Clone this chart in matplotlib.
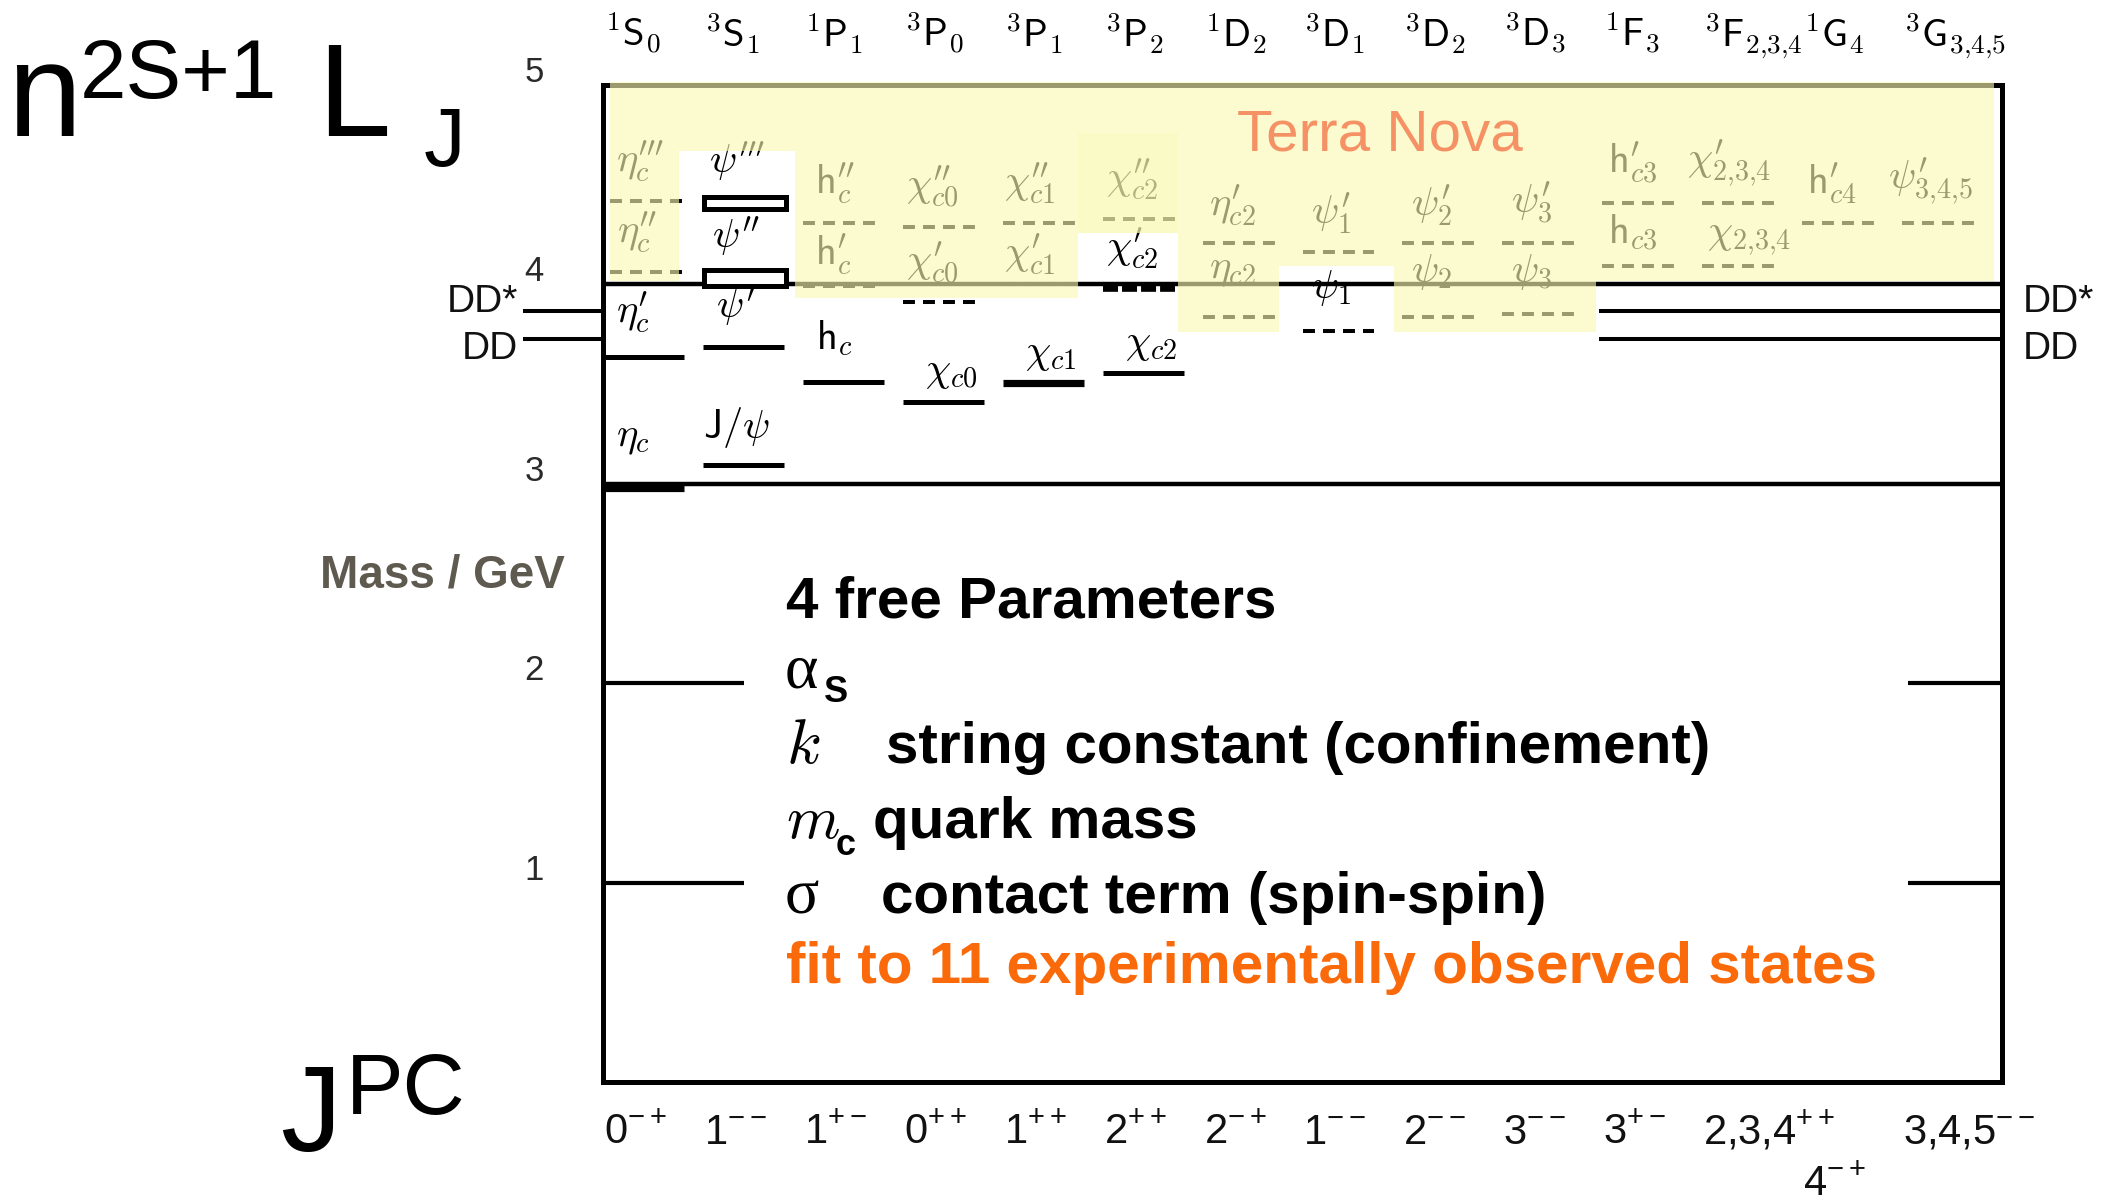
import matplotlib
matplotlib.use("Agg")
import matplotlib.pyplot as plt
from matplotlib import font_manager
from matplotlib.patches import Rectangle

W, H, DPI = 2116, 1204, 100

# spectroscopic notation of each column and its J^PC
headers = [
    r"${}^{1}\mathsf{S}_{0}$", r"${}^{3}\mathsf{S}_{1}$",
    r"${}^{1}\mathsf{P}_{1}$", r"${}^{3}\mathsf{P}_{0}$",
    r"${}^{3}\mathsf{P}_{1}$", r"${}^{3}\mathsf{P}_{2}$",
    r"${}^{1}\mathsf{D}_{2}$", r"${}^{3}\mathsf{D}_{1}$",
    r"${}^{3}\mathsf{D}_{2}$", r"${}^{3}\mathsf{D}_{3}$",
    r"${}^{1}\mathsf{F}_{3}$", r"${}^{3}\mathsf{F}_{2{,}3{,}4}$",
    r"${}^{1}\mathsf{G}_{4}$", r"${}^{3}\mathsf{G}_{3{,}4{,}5}$",
]
jpc = ["0^{-+}", "1^{--}", "1^{+-}", "0^{++}", "1^{++}", "2^{++}", "2^{-+}",
       "1^{--}", "2^{--}", "3^{--}", "3^{+-}", "2{,}3{,}4^{++}", "4^{-+}", "3{,}4{,}5^{--}"]
jpc_row = [0, 0, 0, 0, 0, 0, 0, 0, 0, 0, 0, 0, 1, 0]

# charmonium levels (GeV): column, mass, drawing kind
state_col = [0, 0, 0, 0,
             1, 1,
             2, 2, 2,
             3, 3, 3,
             4, 4, 4,
             5, 5, 5,
             6, 6,
             7, 7,
             8, 8,
             9, 9,
             10, 10,
             11, 11,
             12,
             13]
state_mass = [2.98, 3.636, 4.06, 4.42,
              3.094, 3.686,
              3.51, 3.99, 4.31,
              3.41, 3.91, 4.29,
              3.505, 4.00, 4.31,
              3.556, 3.98, 4.33,
              3.835, 4.21,
              3.766, 4.16,
              3.835, 4.21,
              3.85, 4.21,
              4.09, 4.41,
              4.09, 4.41,
              4.31,
              4.31]
state_kind = ["thick", "solid", "dash", "dash",
              "solid", "solid",
              "solid", "dash", "dash",
              "solid", "dash", "dash",
              "thick", "dash", "dash",
              "solid", "thickdash", "dash",
              "dash", "dash",
              "dash", "dash",
              "dash", "dash",
              "dash", "dash",
              "dash", "dash",
              "dash", "dash",
              "dash",
              "dash"]
state_label = [r"$\eta_{c}$", r"$\eta^{\prime}_{c}$", r"$\eta^{\prime\prime}_{c}$", r"$\eta^{\prime\prime\prime}_{c}$",
               r"$\mathsf{J}/\psi$", r"$\psi^{\prime}$",
               r"$\mathsf{h}_{c}$", r"$\mathsf{h}^{\prime}_{c}$", r"$\mathsf{h}^{\prime\prime}_{c}$",
               r"$\chi_{c0}$", r"$\chi^{\prime}_{c0}$", r"$\chi^{\prime\prime}_{c0}$",
               r"$\chi_{c1}$", r"$\chi^{\prime}_{c1}$", r"$\chi^{\prime\prime}_{c1}$",
               r"$\chi_{c2}$", r"$\chi^{\prime}_{c2}$", r"$\chi^{\prime\prime}_{c2}$",
               r"$\eta_{c2}$", r"$\eta^{\prime}_{c2}$",
               r"$\psi_{1}$", r"$\psi^{\prime}_{1}$",
               r"$\psi_{2}$", r"$\psi^{\prime}_{2}$",
               r"$\psi_{3}$", r"$\psi^{\prime}_{3}$",
               r"$\mathsf{h}_{c3}$", r"$\mathsf{h}^{\prime}_{c3}$",
               r"$\chi_{2{,}3{,}4}$", r"$\chi^{\prime}_{2{,}3{,}4}$",
               r"$\mathsf{h}^{\prime}_{c4}$",
               r"$\psi^{\prime}_{3{,}4{,}5}$"]
label_mass = [3.23, 3.86, 4.26, 4.62,
              3.28, 3.89,
              3.73, 4.15, 4.51,
              3.56, 4.11, 4.49,
              3.65, 4.15, 4.51,
              3.70, 4.18, 4.53,
              4.07, 4.40,
              3.98, 4.36,
              4.06, 4.40,
              4.06, 4.41,
              4.26, 4.61,
              4.23, 4.61,
              4.51,
              4.52]
label_dx = [0.13, 0.13, 0.14, 0.13,
            0.00, 0.13,
            0.13, 0.12, 0.12,
            0.22, 0.03, 0.03,
            0.22, 0.01, 0.01,
            0.22, 0.03, 0.03,
            0.06, 0.06,
            0.09, 0.09,
            0.09, 0.09,
            0.09, 0.09,
            0.06, 0.06,
            0.05, -0.15,
            0.05,
            -0.14]

# broad states shown as mass ranges
box_col = [1, 1]
box_lo = [3.99, 4.38]
box_hi = [4.07, 4.44]
box_label = [r"$\psi^{\prime\prime}$", r"$\psi^{\prime\prime\prime}$"]
box_label_mass = [4.24, 4.62]
box_label_dx = [0.09, 0.06]

# open-charm thresholds
dd_mass = [3.867, 3.726]
dd_label = ["DD*", "DD"]

mass_ticks = [1, 2, 3, 4, 5]

# "Terra Nova" shaded region, piecewise per column
band_x0 = [0.07, 0.76, 1.92, 4.75, 5.75, 6.76, 7.92, 9.94]
band_x1 = [0.76, 1.92, 4.75, 5.75, 6.76, 7.92, 9.94, 13.92]
band_lo = [4.015, 4.67, 3.93, 4.26, 3.76, 4.09, 3.76, 4.015]
band_hi = [5.013] * 8

YELLOW = "#fafab2"
ORANGE = "#fb6a0a"

names = {f.name for f in font_manager.fontManager.ttflist}
narrow = "Liberation Sans Narrow" if "Liberation Sans Narrow" in names else "Liberation Sans"
plt.rcParams["font.family"] = ["Liberation Sans", "DejaVu Sans"]
plt.rcParams["mathtext.fontset"] = "cm"
plt.rcParams["mathtext.rm"] = narrow
plt.rcParams["mathtext.it"] = narrow + ":italic"
plt.rcParams["mathtext.bf"] = narrow + ":bold"
plt.rcParams["lines.scale_dashes"] = False


def px(x, y):
    return x / W, 1 - y / H


fig = plt.figure(figsize=(W / DPI, H / DPI), dpi=DPI)
ax = fig.add_axes([603 / W, 1 - 1082 / H, 1399 / W, 997 / H])
ax.set_xlim(0, 14)
ax.set_ylim(0, 5)
ax.set_xticks([])
ax.set_yticks([])
for sp in ax.spines.values():
    sp.set_linewidth(3.6)

# reference lines
for m in (3.0, 4.0):
    ax.plot([0, 14], [m, m], color="black", lw=3.2, solid_capstyle="butt", zorder=2)
for m in (1.0, 2.0):
    ax.plot([0, 1.41], [m, m], color="black", lw=3.0, solid_capstyle="butt", zorder=2)
    ax.plot([13.06, 14], [m, m], color="black", lw=3.0, solid_capstyle="butt", zorder=2)

# thresholds: stubs on the left, lines across the upper columns on the right
for m, lab in zip(dd_mass, dd_label):
    ax.plot([-0.80, 0], [m, m], color="black", lw=2.9, clip_on=False,
            solid_capstyle="butt", zorder=2)
    ax.plot([9.97, 14], [m, m], color="black", lw=2.9, solid_capstyle="butt", zorder=2)
dd_base = [3.862, 3.625]
for m, lab in zip(dd_base, dd_label):
    ax.text(-0.85, m, lab, ha="right", va="baseline", fontsize=28,
            color="#111111", clip_on=False)
    ax.text(14.21, m, lab, ha="left", va="baseline", fontsize=28,
            color="#111111", clip_on=False)

for m in mass_ticks:
    ax.text(-0.69, m + 0.015, str(m), ha="center", va="baseline", fontsize=25,
            color="#2a2a2a", clip_on=False)

# levels
for col, m, kind in zip(state_col, state_mass, state_kind):
    if kind in ("solid", "thick"):
        ax.plot([col, col + 0.81], [m, m], color="black",
                lw=3.6 if kind == "solid" else 5.2, solid_capstyle="butt", zorder=3)
    elif kind == "dash":
        x0 = col + (0.07 if col == 0 else 0.0)
        ax.plot([x0, x0 + 0.72], [m, m], color="black", lw=2.9,
                dashes=(8.6, 5.8), dash_capstyle="butt", zorder=3)
    else:
        ax.plot([col, col + 0.72], [m, m], color="black", lw=5.5,
                dashes=(10.8, 2.9), dash_capstyle="butt", zorder=3)

for col, lo, hi in zip(box_col, box_lo, box_hi):
    ax.add_patch(Rectangle((col + 0.015, lo), 0.815, hi - lo, facecolor="white",
                           edgecolor="black", lw=3.6, zorder=3))

for col, lm, lab, dx in zip(state_col, label_mass, state_label, label_dx):
    ax.text(col + dx, lm, lab, ha="left", va="center", fontsize=29, zorder=3)
for col, lm, lab, dx in zip(box_col, box_label_mass, box_label, box_label_dx):
    ax.text(col + dx, lm, lab, ha="left", va="center", fontsize=29, zorder=3)

# translucent Terra Nova band on top of the predicted states
for x0, x1, lo, hi in zip(band_x0, band_x1, band_lo, band_hi):
    ax.add_patch(Rectangle((x0, lo), x1 - x0, hi - lo, facecolor=YELLOW,
                           edgecolor="none", alpha=0.62, zorder=4, clip_on=False))
ax.add_patch(Rectangle((4.75, 4.26), 1.0, 0.50, facecolor=YELLOW,
                       edgecolor="none", alpha=0.25, zorder=4))
ax.text(7.77, 4.674, "Terra Nova", ha="center", va="baseline", fontsize=42,
        color="#f5875a", alpha=0.9, zorder=5)

# column headers and quantum numbers
for k, lab in enumerate(headers):
    ax.text(k + 0.02, 5.19, lab, ha="left", va="baseline", fontsize=28, clip_on=False)
for k, (lab, row) in enumerate(zip(jpc, jpc_row)):
    y = -0.31 if row == 0 else -0.57
    ax.text(k + 0.01, y, "$" + lab + "$", ha="left", va="baseline", fontsize=30,
            math_fontfamily="custom", color="#111111", clip_on=False)

# notation at the left
fig.text(*px(7, 136), "n", fontsize=96, va="baseline")
fig.text(*px(80, 98), "2S+1", fontsize=60, va="baseline")
fig.text(*px(317, 136), "L", fontsize=95, va="baseline")
fig.text(*px(424, 166), "J", fontsize=60, va="baseline")
fig.text(*px(280, 1151), "J", fontsize=88, va="baseline")
fig.text(*px(346, 1114), "PC", fontsize=62, va="baseline")
fig.text(*px(320, 588), "Mass / GeV", fontsize=33, fontweight="bold",
         color="#5f5a4f", va="baseline")

# model parameters
fig.text(*px(786, 617), "4 free Parameters", fontsize=42, fontweight="bold", va="baseline")
fig.text(*px(785, 688), "α", fontsize=46, family="Liberation Serif", va="baseline")
fig.text(*px(824, 702), "S", fontsize=26, fontweight="bold", va="baseline")
fig.text(*px(786, 763), r"$k$", fontsize=46, va="baseline")
fig.text(*px(886, 763), "string constant (confinement)", fontsize=42,
         fontweight="bold", va="baseline")
fig.text(*px(786, 838), r"$m$", fontsize=44, va="baseline")
fig.text(*px(836, 855), "c", fontsize=26, fontweight="bold", va="baseline")
fig.text(*px(873, 838), "quark mass", fontsize=42, fontweight="bold", va="baseline")
fig.text(*px(785, 913), "σ", fontsize=46, family="Liberation Serif", va="baseline")
fig.text(*px(881, 913), "contact term (spin-spin)", fontsize=42,
         fontweight="bold", va="baseline")
fig.text(*px(786, 983), "fit to 11 experimentally observed states", fontsize=42,
         fontweight="bold", color=ORANGE, va="baseline")

fig.savefig("out.png", dpi=DPI)
